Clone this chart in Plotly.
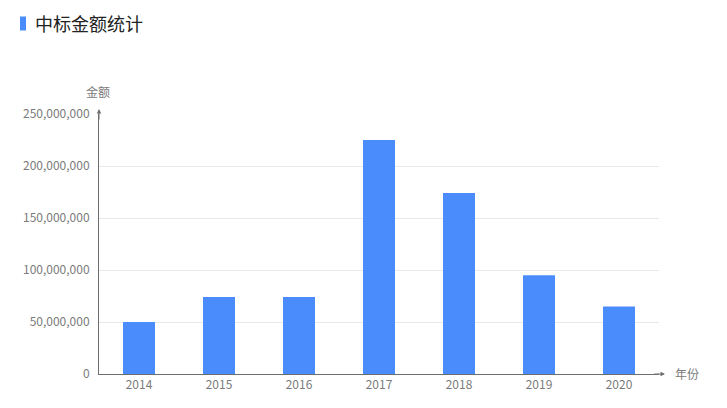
import plotly.graph_objects as go

years = ["2014", "2015", "2016", "2017", "2018", "2019", "2020"]
amounts = [50000000, 74000000, 74000000, 225000000, 174000000, 95000000, 65000000]
y_ticks = [0, 50000000, 100000000, 150000000, 200000000, 250000000]
title_text = "中标金额统计"
y_name = "金额"
x_name = "年份"

# page has an 8px body margin; target coordinates are in window pixels
OFF = 8
W, H = 727 - OFF, 408 - OFF
L, R, T, B = 99 - OFF, 68, 114 - OFF, 34
pw, ph = W - L - R, H - T - B


def px(x):
    return (x - OFF - L) / pw


def py(y):
    return (H - B - (y - OFF)) / ph


font_family = "Noto Sans CJK SC, Noto Sans, sans-serif"
axis_color = "#6e6e6e"
text_color = "#7a7a7a"

fig = go.Figure()
fig.add_trace(go.Bar(
    x=years, y=amounts,
    marker=dict(color="#4a8cfc", line=dict(width=0)),
    hoverinfo="x+y",
))

fig.update_layout(
    width=W, height=H,
    margin=dict(l=L, r=R, t=T, b=B, pad=0),
    paper_bgcolor="white", plot_bgcolor="white",
    bargap=0.6,
    showlegend=False,
    font=dict(family=font_family, size=12, color=text_color),
    xaxis=dict(
        type="category",
        showline=True, linecolor=axis_color, linewidth=1,
        showgrid=False, ticks="", ticklen=0,
        tickfont=dict(size=12, color=text_color),
        fixedrange=True,
    ),
    yaxis=dict(
        range=[0, 250000000],
        tickvals=y_ticks,
        tickformat=",",
        showline=True, linecolor=axis_color, linewidth=1,
        showgrid=True, gridcolor="#e8e8e8", gridwidth=1,
        zeroline=False, ticks="", ticklen=0,
        tickfont=dict(size=12, color=text_color),
        ticklabelstandoff=6,
        fixedrange=True,
    ),
    shapes=[dict(
        type="rect", xref="paper", yref="paper",
        x0=px(20), x1=px(26), y0=py(30.5), y1=py(16.5),
        fillcolor="#4a8cfc", line=dict(width=0),
    )],
    annotations=[
        dict(text=title_text, xref="paper", yref="paper",
             x=px(33), y=py(23.5), xanchor="left", yanchor="middle",
             showarrow=False, font=dict(size=18, color="#222222", family=font_family)),
        dict(text=y_name, xref="paper", yref="paper",
             x=px(98), y=py(91), xanchor="center", yanchor="middle",
             showarrow=False, font=dict(size=12, color=text_color, family=font_family)),
        dict(text=x_name, xref="paper", yref="paper",
             x=px(673), y=py(373), xanchor="left", yanchor="middle",
             showarrow=False, font=dict(size=12, color=text_color, family=font_family)),
        dict(text="", xref="paper", yref="paper",
             x=px(99), y=py(109), ax=0, ay=12, axref="pixel", ayref="pixel",
             showarrow=True, arrowhead=2, arrowsize=0.9, arrowwidth=1, arrowcolor=axis_color),
        dict(text="", xref="paper", yref="paper",
             x=px(665), y=py(374), ax=-12, ay=0, axref="pixel", ayref="pixel",
             showarrow=True, arrowhead=2, arrowsize=0.9, arrowwidth=1, arrowcolor=axis_color),
    ],
)

fig.write_html("out.html")
